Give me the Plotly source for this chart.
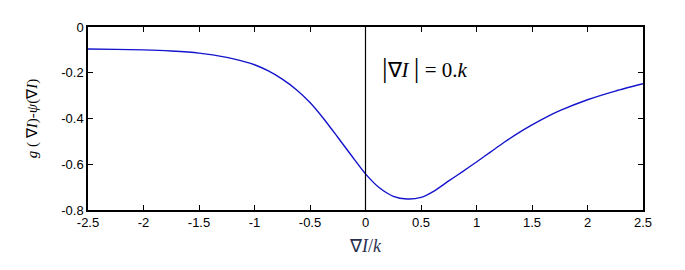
import plotly.graph_objects as go

x_vals = [-2.5, -2.25, -2.0, -1.75, -1.5, -1.25, -1.125, -1.0, -0.875, -0.75, -0.625, -0.5, -0.375,
          -0.25, -0.125, 0.0, 0.125, 0.25, 0.375, 0.5, 0.625, 0.75, 0.875, 1.0, 1.125, 1.25,
          1.375, 1.5, 1.625, 1.75, 2.0, 2.25, 2.5]
y_vals = [-0.096, -0.098, -0.100, -0.105, -0.114, -0.133, -0.147, -0.165, -0.192, -0.228, -0.273, -0.330, -0.402,
          -0.482, -0.563, -0.642, -0.703, -0.740, -0.752, -0.745, -0.715, -0.673, -0.632, -0.590, -0.547, -0.504,
          -0.464, -0.428, -0.395, -0.366, -0.318, -0.280, -0.248]
x_ticks = [-2.5, -2, -1.5, -1, -0.5, 0, 0.5, 1, 1.5, 2, 2.5]
x_tick_labels = ["-2.5", "-2", "-1.5", "-1", "-0.5", "0", "0.5", "1", "1.5", "2", "2.5"]
y_ticks = [0, -0.2, -0.4, -0.6, -0.8]
y_tick_labels = ["0", "-0.2", "-0.4", "-0.6", "-0.8"]

fig = go.Figure()
fig.add_trace(go.Scatter(x=x_vals, y=y_vals, mode="lines",
                         line=dict(color="#1414cc", width=1.4, shape="spline", smoothing=0.7),
                         showlegend=False, hoverinfo="skip"))

fig.add_shape(type="line", xref="x", yref="paper", x0=0, x1=0, y0=0, y1=1,
              line=dict(color="black", width=1.2))

fig.add_annotation(x=0.13, y=-0.175, xref="x", yref="y", xanchor="left", yanchor="middle",
                   text="<span style='font-size:28px'>|</span>∇<i>I</i> <span style='font-size:28px'>|</span> = 0.<i>k</i>",
                   showarrow=False, font=dict(family="Liberation Serif", size=21, color="black"))

axis_common = dict(showline=True, linecolor="black", linewidth=1.5, mirror="ticks",
                   ticks="inside", ticklen=5, tickwidth=1.2, tickcolor="black",
                   showgrid=False, zeroline=False,
                   tickfont=dict(family="Liberation Sans", size=13, color="black"))

fig.update_xaxes(range=[-2.5, 2.5], tickvals=x_ticks, ticktext=x_tick_labels,
                 title=dict(text="∇<i>I</i>/<i>k</i>", standoff=10,
                            font=dict(family="Liberation Serif", size=18, color="#2a3050")),
                 **axis_common)
fig.update_yaxes(range=[-0.8, 0], tickvals=y_ticks, ticktext=y_tick_labels,
                 title=dict(text="<i>g</i> ( ∇<i>I</i>)-<i>ψ</i>(∇<i>I</i>)", standoff=20,
                            font=dict(family="Liberation Serif", size=15, color="black")),
                 **axis_common)

fig.update_layout(width=685, height=270, margin=dict(l=80, r=50, t=19, b=68),
                  plot_bgcolor="white", paper_bgcolor="white")

fig.write_html("out.html")
